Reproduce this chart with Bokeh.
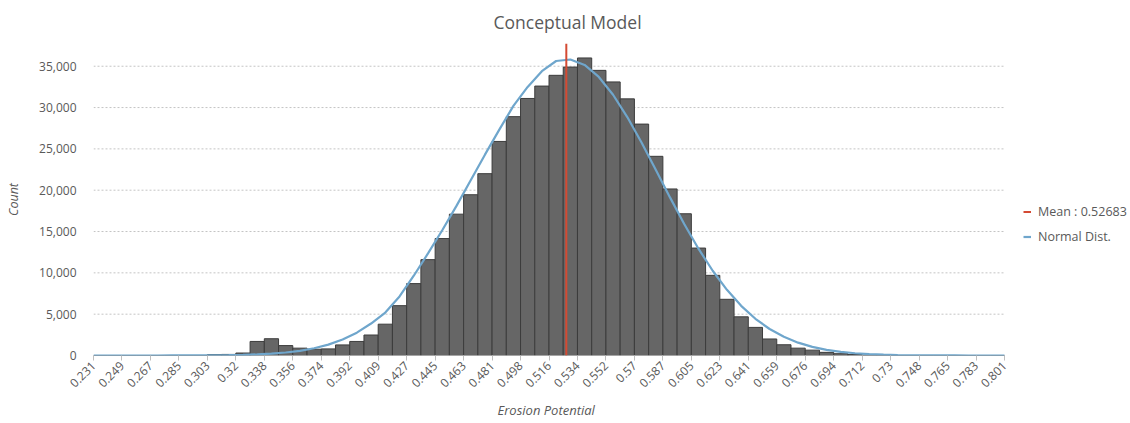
import math
from bokeh.plotting import figure
from bokeh.models import (Range1d, FixedTicker, NumeralTickFormatter, Legend,
                          LegendItem, Title)
from bokeh.embed import file_html
from bokeh.resources import INLINE

# ---------------- data ----------------
title_text = "Conceptual Model"
x_title = "Erosion Potential"
y_title = "Count"
x_min = 0.231
x_max = 0.801
n_bins = 64
mean_value = 0.52683

tick_labels = ["0.231", "0.249", "0.267", "0.285", "0.303", "0.32", "0.338",
               "0.356", "0.374", "0.392", "0.409", "0.427", "0.445", "0.463",
               "0.481", "0.498", "0.516", "0.534", "0.552", "0.57", "0.587",
               "0.605", "0.623", "0.641", "0.659", "0.676", "0.694", "0.712",
               "0.73", "0.748", "0.765", "0.783", "0.801"]

counts = [0, 0, 0, 0, 0, 0, 0, 0,
          120, 130, 300, 1700, 2030, 1200, 890, 760, 800, 1280, 1700, 2480,
          3790, 6030, 8700, 11600, 14150, 17100, 19450, 22000, 25900, 28900,
          31100, 32600, 33900, 34900, 36000, 34500, 33100, 31050, 28000, 24100,
          20150, 17150, 13000, 9700, 6800, 4680, 3400, 2000, 1300, 890,
          650, 380, 220, 110, 50, 20,
          0, 0, 0, 0, 0, 0, 0, 0]

normal_dist = [0, 0, 1, 1, 2, 4, 8, 14, 26, 46, 80, 135, 223, 360, 568, 874,
               1315, 1927, 2766, 3868, 5200, 7150, 9650, 12350, 15150, 18100,
               21200, 24300, 27300, 30200, 32500, 34400, 35634, 35816, 35158,
               33703, 31552, 28848, 25762, 22464, 19130, 15910, 12924, 10253,
               7944, 6008, 4442, 3205, 2258, 1554, 1044, 686, 440, 275, 168,
               100, 58, 33, 19, 10, 5, 3, 1, 1]

y_ticks = [0, 5000, 10000, 15000, 20000, 25000, 30000, 35000]
y_top = 37750

# ---------------- layout / styles ----------------
W, H = 1130, 423
FRAME_L, PLOT_R = 93, 1004          # left of frame, right end of the bins (px)
TXT = "#595959"
FONT = "Open Sans"

bin_width = (x_max - x_min) / n_bins
idx = list(range(n_bins))
lefts = [float(i) for i in idx]
rights = [i + 1.0 for i in idx]
centers = [i + 0.5 for i in idx]
mean_x = (mean_value - x_min) / bin_width
# the frame runs to the right edge so the legend can sit beside the bins
x_end = n_bins * (W - FRAME_L) / (PLOT_R - FRAME_L)

p = figure(width=W, height=H, output_backend="svg", toolbar_location=None,
           x_range=Range1d(0, x_end), y_range=Range1d(0, y_top),
           min_border_left=FRAME_L, min_border_right=0, min_border_top=43,
           min_border_bottom=68)
p.background_fill_color = "white"
p.border_fill_color = "white"
p.outline_line_color = None

p.title.text = title_text
p.title.align = "left"
p.title.offset = 400
p.title.vertical_align = "top"
p.title.text_font = FONT
p.title.text_font_size = "17.5px"
p.title.text_font_style = "normal"
p.title.text_color = TXT
p.title.text_line_height = 0.7
p.title.standoff = 16

# dotted horizontal grid lines, only across the bins
grid_y = y_ticks[1:]
p.segment(x0=[0] * len(grid_y), x1=[n_bins] * len(grid_y), y0=grid_y, y1=grid_y,
          line_color="#c4c4c4", line_dash="2 2", line_width=1)

p.quad(left=lefts, right=rights, bottom=0, top=counts,
       fill_color="#666666", line_color="#3c3c3c", line_width=1)

# baseline (x axis line)
p.segment(x0=[0], x1=[n_bins], y0=[0], y1=[0], line_color="#bfbfbf",
          line_width=1)

curve_x = [0.0] + centers + [float(n_bins)]
curve_y = [0] + normal_dist + [0]
r_norm = p.line(curve_x, curve_y, line_color="#6FA6CC", line_width=2.2)
r_mean = p.line([mean_x, mean_x], [0, y_top], line_color="#D44A33",
                line_width=2)

# x axis
xt = [2 * k for k in range(len(tick_labels))]
p.xaxis.ticker = FixedTicker(ticks=xt)
p.xaxis.major_label_overrides = {t: lab for t, lab in zip(xt, tick_labels)}
p.xaxis.major_label_orientation = math.pi / 4
p.xaxis.major_label_text_font = FONT
p.xaxis.major_label_text_font_size = "12px"
p.xaxis.major_label_text_color = TXT
p.xaxis.major_label_standoff = 3
p.xaxis.major_tick_in = 0
p.xaxis.major_tick_out = 5
p.xaxis.major_tick_line_color = "#bfbfbf"
p.xaxis.minor_tick_line_color = None
p.xaxis.axis_line_color = None

xlabel = Title(text=x_title, align="left", offset=404, text_font=FONT,
               text_font_size="13px", text_font_style="italic",
               text_color=TXT, standoff=9)
p.add_layout(xlabel, "below")

# y axis
p.yaxis.ticker = FixedTicker(ticks=y_ticks)
p.yaxis.formatter = NumeralTickFormatter(format="0,0")
p.yaxis.major_label_text_font = FONT
p.yaxis.major_label_text_font_size = "12px"
p.yaxis.major_label_text_color = TXT
p.yaxis.major_label_standoff = 11
p.yaxis.major_tick_line_color = None
p.yaxis.minor_tick_line_color = None
p.yaxis.axis_line_color = None
p.yaxis.axis_label = y_title
p.yaxis.axis_label_text_font = FONT
p.yaxis.axis_label_text_font_size = "12.5px"
p.yaxis.axis_label_text_font_style = "italic"
p.yaxis.axis_label_text_color = TXT
p.yaxis.axis_label_standoff = 14

p.xgrid.visible = False
p.ygrid.visible = False

legend = Legend(items=[LegendItem(label=f"Mean : {mean_value}", renderers=[r_mean]),
                       LegendItem(label="Normal Dist.", renderers=[r_norm])],
                location=(930, 110))
legend.border_line_color = None
legend.background_fill_alpha = 0
legend.label_text_font = FONT
legend.label_text_font_size = "12.5px"
legend.label_text_color = TXT
legend.glyph_width = 8
legend.glyph_height = 17
legend.label_height = 17
legend.spacing = 8
legend.padding = 0
legend.margin = 0
legend.label_standoff = 7
p.add_layout(legend)

open("out.html", "w").write(file_html(p, INLINE))
